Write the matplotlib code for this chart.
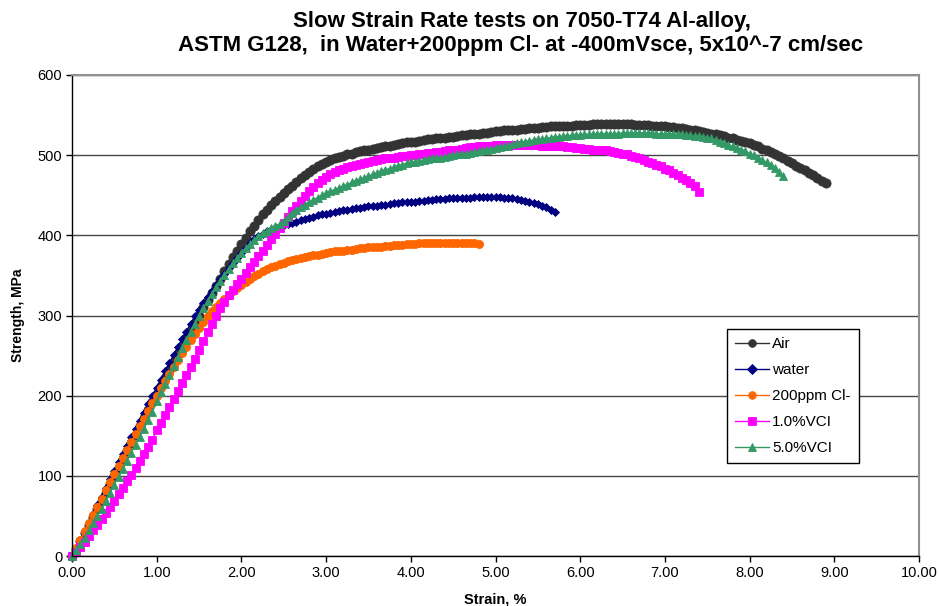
import matplotlib
matplotlib.use("Agg")
import matplotlib.pyplot as plt
from matplotlib.ticker import MultipleLocator, FormatStrFormatter

plt.rcParams['font.family'] = ['Liberation Sans', 'DejaVu Sans']

# Common strain sampling grid (%), every recorded point of the tests
strain = [
    0.00, 0.05, 0.10, 0.15, 0.20, 0.25, 0.30, 0.35, 0.40, 0.45,
    0.50, 0.55, 0.60, 0.65, 0.70, 0.75, 0.80, 0.85, 0.90, 0.95,
    1.00, 1.05, 1.10, 1.15, 1.20, 1.25, 1.30, 1.35, 1.40, 1.45,
    1.50, 1.55, 1.60, 1.65, 1.70, 1.75, 1.80, 1.85, 1.90, 1.95,
    2.00, 2.05, 2.10, 2.15, 2.20, 2.25, 2.30, 2.35, 2.40, 2.45,
    2.50, 2.55, 2.60, 2.65, 2.70, 2.75, 2.80, 2.85, 2.90, 2.95,
    3.00, 3.05, 3.10, 3.15, 3.20, 3.25, 3.30, 3.35, 3.40, 3.45,
    3.50, 3.55, 3.60, 3.65, 3.70, 3.75, 3.80, 3.85, 3.90, 3.95,
    4.00, 4.05, 4.10, 4.15, 4.20, 4.25, 4.30, 4.35, 4.40, 4.45,
    4.50, 4.55, 4.60, 4.65, 4.70, 4.75, 4.80, 4.85, 4.90, 4.95,
    5.00, 5.05, 5.10, 5.15, 5.20, 5.25, 5.30, 5.35, 5.40, 5.45,
    5.50, 5.55, 5.60, 5.65, 5.70, 5.75, 5.80, 5.85, 5.90, 5.95,
    6.00, 6.05, 6.10, 6.15, 6.20, 6.25, 6.30, 6.35, 6.40, 6.45,
    6.50, 6.55, 6.60, 6.65, 6.70, 6.75, 6.80, 6.85, 6.90, 6.95,
    7.00, 7.05, 7.10, 7.15, 7.20, 7.25, 7.30, 7.35, 7.40, 7.45,
    7.50, 7.55, 7.60, 7.65, 7.70, 7.75, 7.80, 7.85, 7.90, 7.95,
    8.00, 8.05, 8.10, 8.15, 8.20, 8.25, 8.30, 8.35, 8.40, 8.45,
    8.50, 8.55, 8.60, 8.65, 8.70, 8.75, 8.80, 8.85, 8.90,
]

# Strength (MPa) for each environment, one row per 0.5 % of strain
stress_air = [
    0, 9, 19, 29, 39, 49, 59, 69, 79, 90,
    100, 110, 121, 131, 141, 151, 162, 172, 182, 192,
    202, 212, 222, 232, 242, 252, 262, 272, 281, 291,
    300, 310, 319, 328, 337, 346, 355, 364, 373, 381,
    389, 397, 405, 412, 419, 426, 432, 438, 443, 448,
    453, 458, 462, 467, 471, 475, 479, 483, 486, 489,
    492, 494, 496, 498, 499, 501, 502, 504, 505, 506,
    507, 508, 509, 510, 511, 512, 513, 514, 515, 516,
    517, 517, 518, 519, 520, 520, 521, 522, 522, 523,
    523, 524, 525, 525, 526, 526, 527, 528, 528, 529,
    530, 530, 531, 531, 532, 532, 533, 533, 534, 534,
    534, 535, 535, 536, 536, 536, 537, 537, 537, 538,
    538, 538, 538, 539, 539, 539, 539, 539, 539, 539,
    539, 539, 539, 538, 538, 538, 538, 537, 537, 536,
    536, 535, 535, 534, 534, 533, 532, 531, 530, 529,
    528, 527, 526, 525, 524, 522, 521, 519, 518, 516,
    515, 513, 511, 508, 506, 504, 501, 499, 496, 493,
    490, 487, 484, 481, 478, 475, 471, 468, 465,
]

stress_water = [
    0, 9, 19, 30, 41, 52, 63, 74, 85, 96,
    106, 117, 127, 137, 148, 158, 169, 179, 190, 200,
    210, 220, 231, 241, 251, 261, 271, 280, 290, 299,
    307, 315, 323, 331, 338, 345, 352, 359, 366, 372,
    378, 384, 390, 395, 399, 402, 405, 407, 409, 411,
    413, 414, 416, 417, 419, 420, 422, 423, 425, 426,
    427, 428, 429, 430, 431, 432, 433, 434, 434, 435,
    436, 436, 437, 438, 438, 439, 440, 440, 441, 441,
    442, 442, 443, 443, 444, 444, 445, 445, 445, 446,
    446, 446, 447, 447, 447, 448, 448, 448, 448, 448,
    448, 448, 447, 447, 446, 445, 444, 443, 442, 440,
    439, 437, 435, 432, 429,
]

stress_cl = [
    0, 10, 20, 31, 41, 51, 61, 71, 82, 92,
    102, 112, 122, 132, 142, 152, 162, 171, 181, 191,
    200, 209, 218, 227, 236, 245, 253, 261, 269, 277,
    285, 292, 299, 305, 311, 316, 321, 326, 330, 334,
    338, 342, 346, 349, 352, 355, 358, 360, 362, 364,
    366, 368, 369, 371, 372, 373, 374, 375, 376, 377,
    378, 379, 380, 380, 381, 382, 382, 383, 384, 384,
    385, 385, 386, 386, 387, 387, 388, 388, 388, 389,
    389, 389, 390, 390, 390, 390, 391, 391, 391, 391,
    391, 391, 391, 390, 390, 390, 389,
]

stress_vci1 = [
    0, 5, 11, 18, 25, 32, 39, 46, 54, 61,
    69, 77, 85, 93, 101, 110, 118, 127, 136, 145,
    157, 166, 176, 186, 196, 206, 216, 226, 236, 246,
    257, 268, 279, 290, 300, 309, 317, 325, 332, 339,
    346, 353, 360, 367, 374, 381, 388, 395, 402, 409,
    416, 423, 430, 437, 443, 449, 455, 460, 465, 469,
    473, 476, 479, 481, 483, 485, 486, 488, 489, 490,
    492, 493, 494, 495, 496, 497, 497, 498, 499, 499,
    500, 500, 501, 502, 503, 503, 504, 504, 505, 506,
    507, 507, 508, 509, 510, 510, 511, 511, 512, 512,
    513, 513, 513, 513, 513, 513, 513, 513, 513, 513,
    513, 512, 512, 512, 512, 511, 511, 510, 510, 509,
    509, 508, 508, 507, 507, 506, 506, 505, 504, 503,
    502, 501, 499, 498, 496, 494, 492, 490, 488, 486,
    483, 481, 478, 475, 472, 469, 465, 461, 454,
]

stress_vci5 = [
    0, 7, 15, 23, 32, 41, 50, 59, 69, 79,
    89, 99, 109, 119, 129, 139, 149, 159, 170, 180,
    193, 204, 215, 226, 237, 248, 259, 270, 280, 290,
    300, 309, 318, 327, 335, 343, 351, 358, 365, 372,
    378, 384, 389, 394, 399, 403, 406, 409, 412, 414,
    418, 423, 428, 432, 435, 438, 441, 444, 447, 450,
    453, 455, 457, 459, 461, 463, 466, 468, 470, 472,
    474, 476, 478, 480, 482, 483, 485, 487, 488, 490,
    491, 492, 493, 494, 495, 496, 497, 497, 498, 499,
    500, 501, 502, 502, 503, 504, 505, 506, 507, 508,
    509, 510, 511, 512, 514, 515, 516, 517, 518, 519,
    520, 520, 521, 522, 523, 523, 524, 524, 525, 525,
    525, 526, 526, 526, 527, 527, 527, 527, 527, 527,
    528, 528, 528, 528, 528, 528, 528, 528, 527, 527,
    527, 527, 526, 526, 526, 525, 525, 524, 524, 523,
    522, 521, 519, 517, 515, 513, 511, 509, 507, 505,
    502, 500, 497, 494, 491, 488, 484, 479, 474,
]

series = [
    ("Air", stress_air, "#333333", "o", 6.6),
    ("water", stress_water, "#000080", "D", 4.2),
    ("200ppm Cl-", stress_cl, "#FF6600", "o", 5.8),
    ("1.0%VCI", stress_vci1, "#FF00FF", "s", 5.2),
    ("5.0%VCI", stress_vci5, "#339966", "^", 6.2),
]

fig = plt.figure(figsize=(9.39, 6.06), dpi=100)
ax = fig.add_axes([72 / 939, 1 - 556 / 606, (919 - 72) / 939, (556 - 75) / 606])

for name, ys, color, marker, ms in series:
    ax.plot(strain[:len(ys)], ys, color=color, lw=1.0, marker=marker,
            markersize=ms, markerfacecolor=color, markeredgecolor=color,
            markeredgewidth=0.6, label=name, clip_on=False)

ax.set_xlim(0, 10)
ax.set_ylim(0, 600)
ax.xaxis.set_major_locator(MultipleLocator(1))
ax.yaxis.set_major_locator(MultipleLocator(100))
ax.xaxis.set_major_formatter(FormatStrFormatter('%.2f'))
ax.yaxis.grid(True, color='#444444', lw=1.0)
ax.set_axisbelow(True)

for side in ('left', 'bottom'):
    ax.spines[side].set_color('black')
    ax.spines[side].set_linewidth(1.0)
for side in ('top', 'right'):
    ax.spines[side].set_color('#909090')
    ax.spines[side].set_linewidth(1.5)

ax.tick_params(axis='both', direction='out', length=4, width=1,
               labelsize=10.5, colors='black', pad=3)

ax.set_xlabel("Strain, %", fontsize=10.5, fontweight='bold', labelpad=9)
ax.set_ylabel("Strength, MPa", fontsize=10, fontweight='bold', labelpad=9)

fig.text(522 / 939, 1 - 21 / 606, "Slow Strain Rate tests on 7050-T74 Al-alloy,",
         ha='center', va='center', fontsize=16, fontweight='bold')
fig.text(521 / 939, 1 - 46 / 606,
         "ASTM G128,  in Water+200ppm Cl- at -400mVsce, 5x10^-7 cm/sec",
         ha='center', va='center', fontsize=16, fontweight='bold')

leg = ax.legend(loc='upper left', bbox_to_anchor=((727 - 72) / 847, (556 - 329) / 481),
                frameon=True, fancybox=False, edgecolor='black', framealpha=1,
                fontsize=11, handlelength=2.2, handletextpad=0.2,
                labelspacing=0.78, borderpad=0.55, borderaxespad=0)
leg.get_frame().set_linewidth(1.0)
for h in leg.legend_handles:
    h.set_markersize(5.5)

fig.savefig("out.png", dpi=100)
